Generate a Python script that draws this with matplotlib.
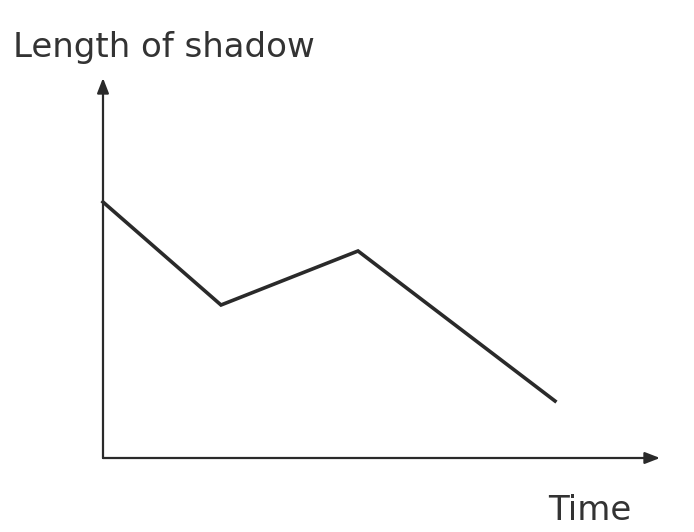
import numpy as np
import matplotlib.pyplot as plt

# shadow length over time (arbitrary units, origin at the axes corner)
time = [0.0, 1.18, 2.55, 4.52]
shadow = [2.56, 1.53, 2.07, 0.57]

x_end = 5.57
y_end = 3.80

fig = plt.figure(figsize=(6.94, 5.32), dpi=100)
ax = fig.add_axes([0, 0, 1, 1])
# 1 unit = 100 px, origin at (103, 458) px
ax.set_xlim(-1.03, 5.91)
ax.set_ylim(-0.74, 4.58)
ax.axis('off')

ink = '#2a2a2a'

# axes with arrowheads
ax.annotate('', xy=(x_end, 0), xytext=(0, 0),
            arrowprops=dict(arrowstyle='-|>,head_length=0.9,head_width=0.35',
                            color=ink, lw=1.6, shrinkA=0, shrinkB=0))
ax.annotate('', xy=(0, y_end), xytext=(0, 0),
            arrowprops=dict(arrowstyle='-|>,head_length=0.9,head_width=0.35',
                            color=ink, lw=1.6, shrinkA=0, shrinkB=0))

ax.plot(time, shadow, color=ink, lw=2.6, solid_joinstyle='miter')

ax.text(-0.90, 4.01, 'Length of shadow', fontsize=24.5, family='DejaVu Sans',
        color='#333333', ha='left', va='baseline')
ax.text(4.45, -0.62, 'Time', fontsize=24.5, family='DejaVu Sans',
        color='#333333', ha='left', va='baseline')

fig.savefig('out.png', dpi=100)
